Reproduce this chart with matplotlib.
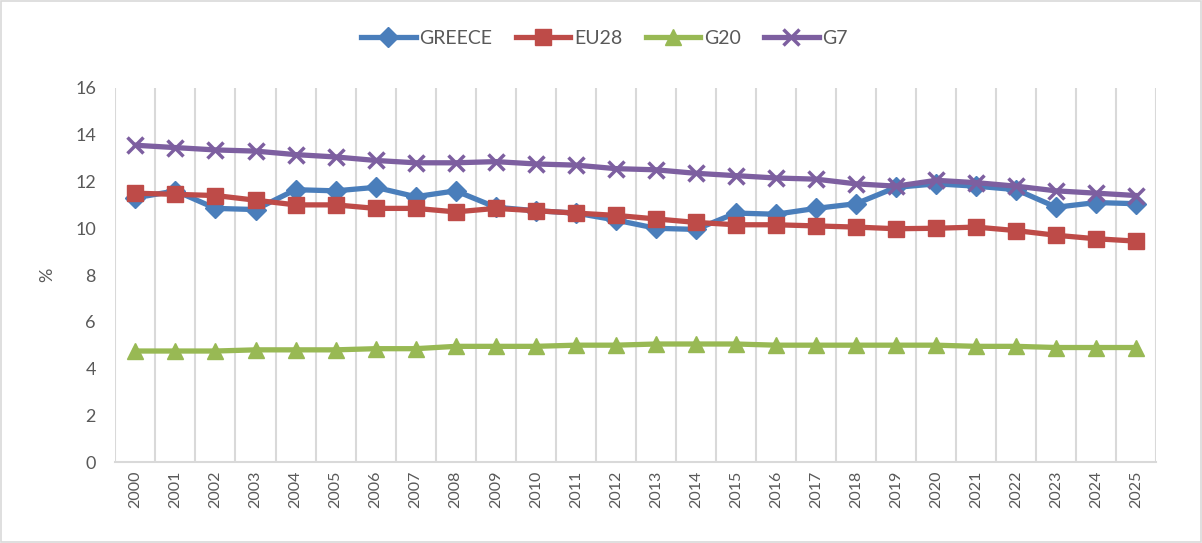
import numpy as np
import matplotlib
matplotlib.use('Agg')
import matplotlib.pyplot as plt

plt.rcParams['font.family'] = ['Lato', 'DejaVu Sans']

# Years and series values (%)
years = [str(y) for y in range(2000, 2026)]
greece = [11.3, 11.6, 10.85, 10.8, 11.65, 11.6, 11.75, 11.35, 11.6, 10.9, 10.75, 10.65, 10.35,
          10.0, 9.95, 10.65, 10.6, 10.85, 11.05, 11.75, 11.9, 11.8, 11.65, 10.9, 11.1, 11.05]
eu28 = [11.5, 11.45, 11.4, 11.2, 11.0, 11.0, 10.85, 10.85, 10.7, 10.85, 10.75, 10.65, 10.55,
        10.4, 10.25, 10.15, 10.15, 10.1, 10.05, 9.98, 10.0, 10.05, 9.9, 9.7, 9.55, 9.45]
g20 = [4.75, 4.75, 4.75, 4.8, 4.8, 4.8, 4.85, 4.85, 4.95, 4.95, 4.95, 5.0, 5.0,
       5.05, 5.05, 5.05, 5.0, 5.0, 5.0, 5.0, 5.0, 4.95, 4.95, 4.9, 4.9, 4.9]
g7 = [13.55, 13.45, 13.35, 13.3, 13.15, 13.05, 12.9, 12.8, 12.8, 12.85, 12.75, 12.7, 12.55,
      12.5, 12.35, 12.25, 12.15, 12.1, 11.9, 11.8, 12.05, 11.95, 11.8, 11.6, 11.5, 11.4]

x = np.arange(len(years))

fig = plt.figure(figsize=(12.02, 5.43), dpi=100)
ax = fig.add_axes([0.096, 0.149, 0.866, 0.689])

ax.plot(x, greece, color='#4a7ebb', lw=3.8, marker='D', ms=10, label='GREECE')
ax.plot(x, eu28, color='#be4b48', lw=3.8, marker='s', ms=12, label='EU28')
ax.plot(x, g20, color='#98b954', lw=3.8, marker='^', ms=11, label='G20')
ax.plot(x, g7, color='#7d5fa0', lw=3.8, marker='x', ms=12, mew=2.5, label='G7')

ax.set_xlim(-0.5, len(years) - 0.5)
ax.set_ylim(0, 16)
ax.set_yticks(range(0, 17, 2))
ax.set_xticks(x)
ax.set_xticklabels(years, rotation=90)
ax.set_xticks(np.arange(-0.5, len(years), 1), minor=True)
ax.grid(which='minor', axis='x', color='#d9d9d9', lw=1.5)
ax.tick_params(which='both', length=0)
ax.tick_params(axis='both', colors='#595959', labelsize=13)
ax.tick_params(axis='x', labelsize=11.5, pad=6)
ax.tick_params(axis='y', pad=14)
for side in ['top', 'right', 'left']:
    ax.spines[side].set_visible(False)
ax.spines['bottom'].set_color('#d9d9d9')
ax.spines['bottom'].set_linewidth(1.5)
ax.set_ylabel('%', color='#595959', fontsize=13, labelpad=14)

# legend centred on the whole figure, like the spreadsheet chart
fig.legend(loc='center', bbox_to_anchor=(0.503, 0.93), ncol=4, frameon=False,
           fontsize=14, labelcolor='#595959', handlelength=2.8, columnspacing=1.2,
           handletextpad=0.2)

fig.patches.append(plt.Rectangle((0.0008, 0.0015), 0.9984, 0.997, transform=fig.transFigure,
                                 fill=False, edgecolor='#d9d9d9', lw=1.2))

fig.savefig('out.png', dpi=100)
